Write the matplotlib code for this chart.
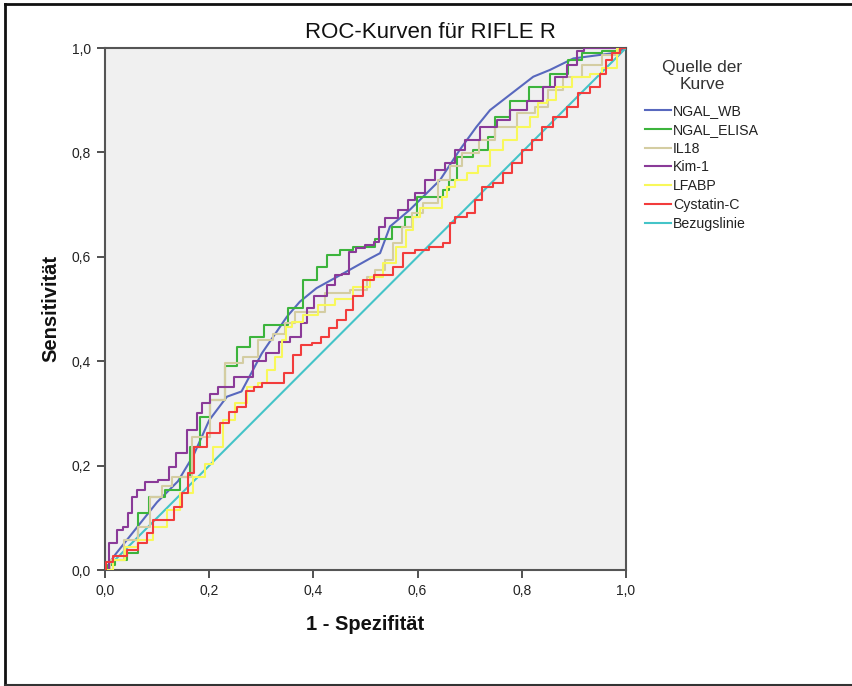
import matplotlib
matplotlib.use("Agg")
import matplotlib.pyplot as plt
from matplotlib.lines import Line2D

plt.rcParams['font.family'] = ['Liberation Sans', 'DejaVu Sans']

series_names = ["NGAL_WB", "NGAL_ELISA", "IL18", "Kim-1", "LFABP", "Cystatin-C", "Bezugslinie"]
series_colors = ["#5868BE", "#3CB43C", "#D4CDA2", "#8A3A98", "#F8F85A", "#F23C3C", "#44C4C8"]
series_steps = [False, True, True, True, True, True, False]

ngal_wb_x = [0, 0.02, 0.06, 0.10, 0.14, 0.17, 0.20, 0.234, 0.262, 0.301, 0.349, 0.374, 0.406, 0.457, 0.509, 0.528, 0.547, 0.585, 0.643, 0.681, 0.713, 0.739, 0.822, 0.854, 0.899, 0.975, 1.0]
ngal_wb_y = [0, 0.03, 0.08, 0.13, 0.17, 0.22, 0.287, 0.332, 0.342, 0.415, 0.485, 0.514, 0.540, 0.568, 0.597, 0.607, 0.658, 0.690, 0.747, 0.805, 0.849, 0.881, 0.945, 0.958, 0.980, 0.990, 1.0]

ngal_elisa_x = [0, 0.01, 0.03, 0.054, 0.074, 0.093, 0.138, 0.150, 0.176, 0.189, 0.214, 0.246, 0.262, 0.294, 0.317, 0.345, 0.358, 0.403, 0.409, 0.445, 0.457, 0.496, 0.541, 0.560, 0.592, 0.605, 0.643, 0.653, 0.669, 0.681, 0.733, 0.739, 0.758, 0.797, 0.829, 0.880, 0.899, 0.931, 0.976, 1.0]
ngal_elisa_y = [0, 0.01, 0.02, 0.032, 0.109, 0.140, 0.153, 0.179, 0.236, 0.294, 0.326, 0.390, 0.428, 0.447, 0.469, 0.469, 0.501, 0.556, 0.581, 0.603, 0.613, 0.619, 0.635, 0.658, 0.677, 0.715, 0.715, 0.728, 0.747, 0.792, 0.805, 0.830, 0.868, 0.898, 0.926, 0.951, 0.977, 0.990, 0.994, 1.0]

il18_x = [0, 0.02, 0.054, 0.074, 0.099, 0.118, 0.138, 0.195, 0.208, 0.253, 0.278, 0.310, 0.336, 0.355, 0.374, 0.400, 0.445, 0.496, 0.509, 0.528, 0.547, 0.560, 0.579, 0.598, 0.624, 0.656, 0.669, 0.701, 0.733, 0.764, 0.816, 0.835, 0.867, 0.893, 0.937, 0.969, 1.0]
il18_y = [0, 0.02, 0.057, 0.083, 0.140, 0.160, 0.179, 0.255, 0.326, 0.396, 0.409, 0.441, 0.453, 0.473, 0.495, 0.495, 0.530, 0.536, 0.562, 0.575, 0.594, 0.626, 0.658, 0.683, 0.703, 0.747, 0.773, 0.798, 0.824, 0.849, 0.875, 0.887, 0.920, 0.945, 0.967, 0.986, 1.0]

kim1_x = [0, 0.016, 0.029, 0.042, 0.048, 0.054, 0.067, 0.086, 0.118, 0.128, 0.144, 0.170, 0.182, 0.189, 0.214, 0.221, 0.275, 0.294, 0.323, 0.345, 0.365, 0.387, 0.390, 0.413, 0.438, 0.445, 0.464, 0.474, 0.489, 0.509, 0.522, 0.528, 0.547, 0.579, 0.585, 0.605, 0.624, 0.643, 0.662, 0.681, 0.701, 0.739, 0.764, 0.790, 0.829, 0.854, 0.873, 0.899, 0.912, 0.925, 1.0]
kim1_y = [0, 0.051, 0.077, 0.083, 0.109, 0.140, 0.153, 0.169, 0.172, 0.198, 0.224, 0.268, 0.300, 0.319, 0.338, 0.351, 0.370, 0.400, 0.415, 0.437, 0.447, 0.473, 0.501, 0.524, 0.546, 0.565, 0.568, 0.610, 0.616, 0.623, 0.629, 0.658, 0.674, 0.690, 0.709, 0.722, 0.747, 0.766, 0.779, 0.805, 0.824, 0.849, 0.862, 0.881, 0.898, 0.926, 0.945, 0.967, 0.994, 1.0, 1.0]

lfabp_x = [0, 0.029, 0.048, 0.080, 0.106, 0.131, 0.157, 0.182, 0.202, 0.214, 0.240, 0.259, 0.285, 0.304, 0.317, 0.336, 0.345, 0.349, 0.368, 0.393, 0.425, 0.457, 0.496, 0.522, 0.547, 0.572, 0.585, 0.598, 0.611, 0.643, 0.649, 0.662, 0.681, 0.707, 0.726, 0.752, 0.777, 0.803, 0.829, 0.835, 0.860, 0.873, 0.918, 0.944, 0.965, 1.0]
lfabp_y = [0, 0.019, 0.045, 0.057, 0.083, 0.115, 0.147, 0.179, 0.204, 0.236, 0.287, 0.319, 0.351, 0.358, 0.383, 0.409, 0.441, 0.466, 0.476, 0.489, 0.508, 0.520, 0.543, 0.562, 0.588, 0.619, 0.651, 0.677, 0.693, 0.693, 0.715, 0.734, 0.747, 0.760, 0.773, 0.805, 0.824, 0.849, 0.868, 0.894, 0.900, 0.926, 0.945, 0.951, 0.962, 1.0]

cystatin_x = [0, 0.003, 0.029, 0.054, 0.074, 0.086, 0.099, 0.128, 0.138, 0.157, 0.160, 0.182, 0.208, 0.234, 0.243, 0.265, 0.275, 0.298, 0.304, 0.342, 0.345, 0.355, 0.365, 0.387, 0.406, 0.425, 0.435, 0.457, 0.470, 0.483, 0.509, 0.522, 0.547, 0.560, 0.585, 0.605, 0.637, 0.662, 0.662, 0.681, 0.707, 0.713, 0.733, 0.758, 0.771, 0.790, 0.809, 0.829, 0.848, 0.873, 0.899, 0.918, 0.944, 0.956, 0.969, 0.976, 1.0]
cystatin_y = [0, 0.016, 0.026, 0.038, 0.051, 0.070, 0.096, 0.096, 0.121, 0.147, 0.185, 0.236, 0.262, 0.281, 0.303, 0.313, 0.342, 0.351, 0.358, 0.358, 0.377, 0.377, 0.412, 0.431, 0.434, 0.447, 0.463, 0.479, 0.498, 0.524, 0.556, 0.565, 0.565, 0.581, 0.607, 0.613, 0.619, 0.626, 0.664, 0.677, 0.683, 0.709, 0.734, 0.741, 0.760, 0.779, 0.805, 0.824, 0.849, 0.868, 0.887, 0.913, 0.926, 0.951, 0.977, 0.990, 1.0]

ref_x = [0, 1]
ref_y = [0, 1]

series_x = [ngal_wb_x, ngal_elisa_x, il18_x, kim1_x, lfabp_x, cystatin_x, ref_x]
series_y = [ngal_wb_y, ngal_elisa_y, il18_y, kim1_y, lfabp_y, cystatin_y, ref_y]

tick_vals = [0.0, 0.2, 0.4, 0.6, 0.8, 1.0]
tick_labels = ["0,0", "0,2", "0,4", "0,6", "0,8", "1,0"]

W, H = 853, 686
fig = plt.figure(figsize=(W / 100, H / 100), dpi=100)
fig.patch.set_facecolor("white")

# outer border
fig.add_artist(Line2D([5 / W, 5 / W], [1 - 4 / H, 1 - 685 / H], transform=fig.transFigure, color="#111111", lw=2))
fig.add_artist(Line2D([5 / W, 1.0], [1 - 4 / H, 1 - 4 / H], transform=fig.transFigure, color="#111111", lw=2))
fig.add_artist(Line2D([5 / W, 1.0], [1 - 685 / H, 1 - 685 / H], transform=fig.transFigure, color="#333333", lw=1.5))

ax = fig.add_axes([105 / W, 1 - 570 / H, 521 / W, 522 / H])
ax.set_facecolor("#F0F0F0")

handles = []
for name, col, st, xs, ys in zip(series_names, series_colors, series_steps, series_x, series_y):
    ln, = ax.plot(xs, ys, color=col, lw=1.5, label=name,
                  drawstyle="steps-mid" if st else "default", zorder=4 if st else 3)
    handles.append(ln)

ax.set_xlim(0, 1)
ax.set_ylim(0, 1)
ax.set_xticks(tick_vals)
ax.set_xticklabels(tick_labels)
ax.set_yticks(tick_vals)
ax.set_yticklabels(tick_labels)
ax.tick_params(direction="out", length=6, width=1.2, color="#333333", labelsize=10, labelcolor="#222222", pad=4)
for s in ax.spines.values():
    s.set_color("#555555")
    s.set_linewidth(1.5)

ax.set_xlabel("1 - Spezifität", fontsize=14.5, fontweight="bold", labelpad=12, color="#111111")
ax.set_ylabel("Sensitivität", fontsize=14.5, fontweight="bold", labelpad=8, color="#111111")

fig.text(430 / W, 1 - 32 / H, "ROC-Kurven für RIFLE R", ha="center", va="center",
         fontsize=16, fontweight="medium", color="#111111")

fig.text(702 / W, 1 - 76 / H, "Quelle der\nKurve", ha="center", va="center",
         fontsize=12.5, color="#333333", linespacing=1.2)

leg = fig.legend(handles=handles, labels=series_names, loc="upper left",
                 bbox_to_anchor=(645 / W, 1 - 104 / H), frameon=False,
                 fontsize=10.2, handlelength=1.85, handletextpad=0.12,
                 labelspacing=0.34, borderpad=0, borderaxespad=0)
for t in leg.get_texts():
    t.set_color("#222222")

fig.savefig("out.png", dpi=100)
